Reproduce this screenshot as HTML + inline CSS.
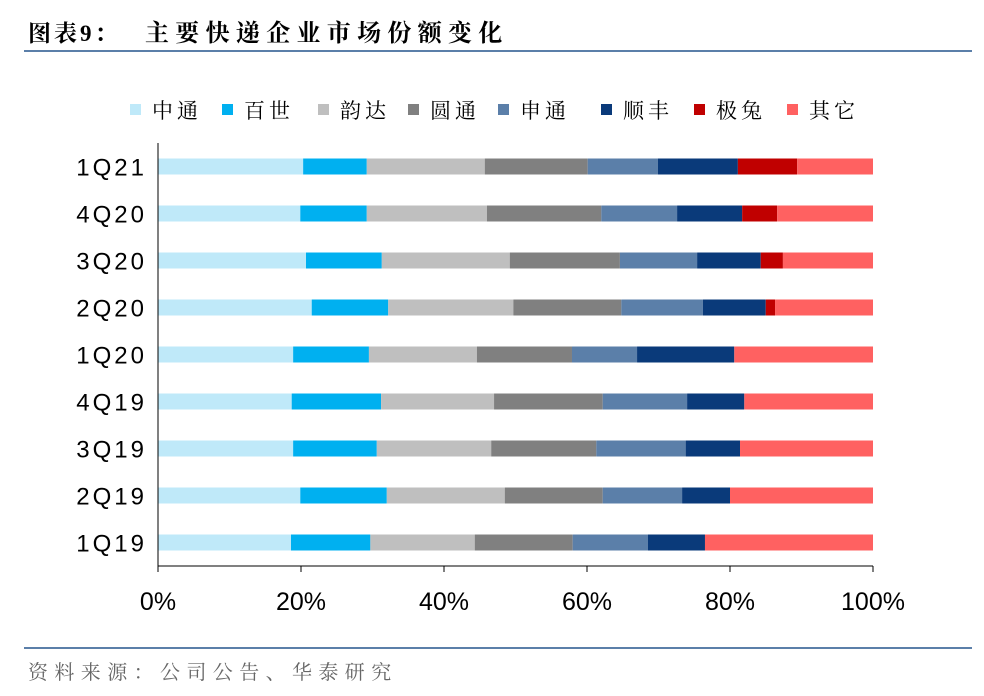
<!DOCTYPE html>
<html><head><meta charset="utf-8">
<style>
body{margin:0;background:#fff;font-family:"Liberation Sans","Noto Sans CJK SC",sans-serif;}
#wrap{position:relative;width:984px;height:696px;overflow:hidden;}
</style></head>
<body>
<div id="wrap">
<svg id="svg" width="984" height="696" xmlns="http://www.w3.org/2000/svg">
<text x="28" y="41" font-size="23" font-weight="bold" fill="#000" font-family="Liberation Serif,Noto Serif CJK SC,serif" letter-spacing="3">图表9：</text>
<text x="145" y="41" font-size="24" font-weight="bold" fill="#000" font-family="Liberation Serif,Noto Serif CJK SC,serif" letter-spacing="6.3">主要快递企业市场份额变化</text>
<line x1="24" y1="51" x2="972" y2="51" stroke="#5b7fa9" stroke-width="2"/>
<line x1="24" y1="648" x2="972" y2="648" stroke="#5b7fa9" stroke-width="2"/>
<text x="28" y="679" font-size="20" fill="#666" font-family="Liberation Serif,Noto Serif CJK SC,serif" letter-spacing="6.4">资料来源：公司公告、华泰研究</text>
<g id="plot"></g>
</svg>
</div>
<script>
const categories=["1Q21","4Q20","3Q20","2Q20","1Q20","4Q19","3Q19","2Q19","1Q19"];
const seriesNames=["中通","百世","韵达","圆通","申通","顺丰","极兔","其它"];
const s1=[20.3,19.9,20.7,21.5,18.9,18.7,18.9,19.9,18.6];
const s2=[8.9,9.3,10.6,10.7,10.6,12.5,11.7,12.1,11.1];
const s3=[16.5,16.8,17.9,17.5,15.1,15.8,16.0,16.5,14.6];
const s4=[14.4,16.0,15.4,15.1,13.3,15.2,14.7,13.7,13.7];
const s5=[9.8,10.6,10.8,11.4,9.1,11.8,12.5,11.1,10.5];
const s6=[11.2,9.1,8.9,8.8,13.6,8.0,7.6,6.7,8.0];
const s7=[8.3,4.9,3.1,1.3,0,0,0,0,0];
const s8=[10.6,13.4,12.6,13.7,19.4,18.0,18.6,20.0,23.5];
const xTicks=["0%","20%","40%","60%","80%","100%"];
const series=[s1,s2,s3,s4,s5,s6,s7,s8];
const colors=["#bfe9f9","#00b0f0","#bfbfbf","#808080","#5b7fa9","#0a3a7a","#c00000","#ff6161"];
const NS="http://www.w3.org/2000/svg";
const g=document.getElementById('plot');
const X0=158,X1=873,Y0=143,Y1=566;
const x=v=>X0+(X1-X0)*v/100;
const band=(Y1-Y0)/categories.length;
const yc=i=>Y0+band*(i+0.5);
function mk(tag,attrs){const e=document.createElementNS(NS,tag);for(const k in attrs)e.setAttribute(k,attrs[k]);g.appendChild(e);return e;}
categories.forEach((c,i)=>{
  let acc=0;
  series.forEach((s,j)=>{
    const v=s[i];
    const r=mk('rect',{x:x(acc),y:yc(i)-8,width:Math.max(0,x(acc+v)-x(acc)),height:16,fill:colors[j]});
    
    
    acc+=v;
  });
  const t=mk('text',{x:147,y:yc(i)+9,'text-anchor':'end','font-size':24,'letter-spacing':3,fill:'#000'});
  t.textContent=c;
  
  
});
const ax=mk('line',{x1:X0,y1:Y0,x2:X0,y2:Y1,stroke:'#000','stroke-width':1});


const ax2=mk('line',{x1:X0,y1:Y1,x2:X1,y2:Y1,stroke:'#000','stroke-width':1});


xTicks.forEach((t,i)=>{
  const xx=x(i*20);
  const l=mk('line',{x1:xx,y1:Y1,x2:xx,y2:Y1+6,stroke:'#000'});
  
  
  const tx=mk('text',{x:xx,y:610,'text-anchor':'middle','font-size':25,fill:'#000'});
  tx.textContent=t;
  
  
});
const lx=[130,222,318,408,498,601,694,787];
seriesNames.forEach((n,j)=>{
  const r=mk('rect',{x:lx[j],y:104,width:11,height:11,fill:colors[j]});
  
  
  const t=mk('text',{x:lx[j]+22,y:118,'font-size':21,'letter-spacing':4,fill:'#000','font-family':'Noto Serif CJK SC,serif'});
  t.textContent=n;
  
  
});
</script>
</body></html>
